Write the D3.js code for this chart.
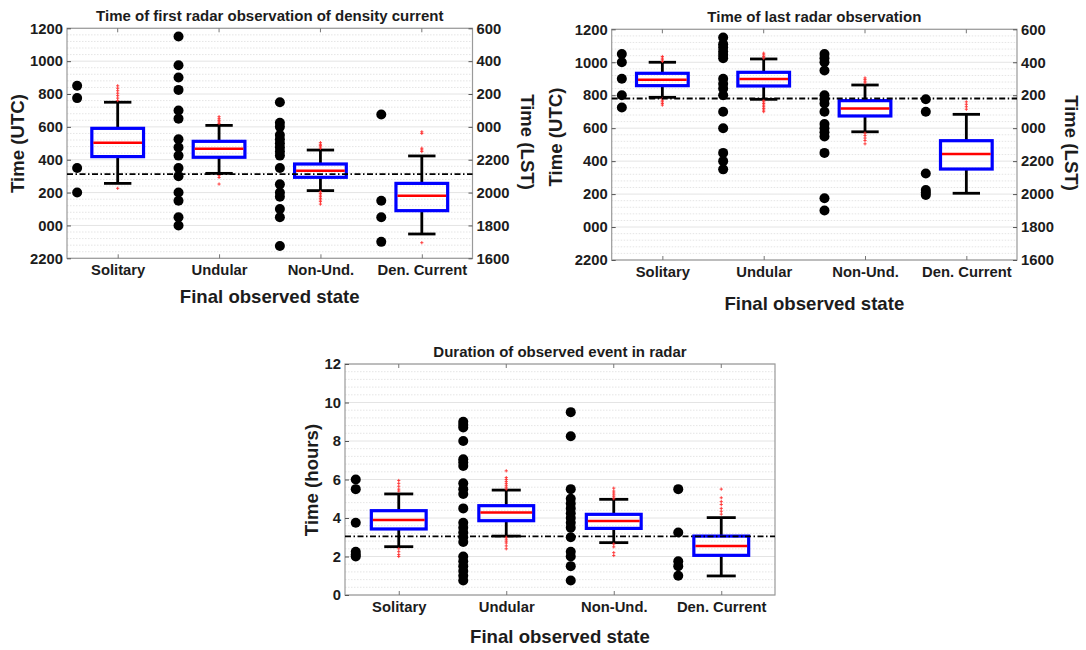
<!DOCTYPE html>
<html>
<head>
<meta charset="utf-8">
<script src="https://cdn.jsdelivr.net/npm/d3@7"></script>
<style>
  body { margin: 0; background: #fff; }
  svg { display: block; }
  text { font-family: "Liberation Sans", Arial, Helvetica, sans-serif; font-weight: bold; fill: #1c1c1c; }
</style>
</head>
<body>
<svg id="fig" width="1086" height="650"></svg>
<script>
// ---- categories and tick labels ----
const categories = ["Solitary", "Undular", "Non-Und.", "Den. Current"];
const clockTicks = [-200, 0, 200, 400, 600, 800, 1000, 1200];
const hourTicks = [0, 2, 4, 6, 8, 10, 12];

// ---- time of first radar observation (UTC, HHMM) ----
const firstEvents = [
  [850, 775, 350, 200],
  [1150, 975, 900, 825, 700, 650, 525, 475, 425, 350, 300, 200, 150, 50, 0],
  [750, 625, 600, 550, 525, 500, 475, 450, 425, 350, 250, 200, 175, 100, 50, -125],
  [675, 150, 50, -100]
];
const firstLow = [256, 317, 212, -52];
const firstQ1 = [419, 415, 293, 90];
const firstMedian = [504, 467, 333, 181];
const firstQ3 = [591, 512, 374, 256];
const firstHigh = [750, 609, 459, 423];
const firstOutliers = [
  [760, 775, 790, 805, 820, 835, 850, 226],
  [620, 630, 640, 650, 662, 305, 292, 252],
  [470, 478, 486, 494, 504, 205, 195, 185, 175, 165, 155, 145, 130],
  [570, 560, 470, 460, 450, -105]
];
const firstReference = 312;

// ---- time of last radar observation (UTC, HHMM) ----
const lastEvents = [
  [1050, 1000, 900, 800, 725],
  [1150, 1110, 1090, 1065, 1045, 1025, 900, 870, 840, 800, 700, 600, 450, 400, 350],
  [1050, 1025, 1000, 950, 800, 775, 750, 700, 625, 600, 575, 550, 450, 175, 100],
  [775, 700, 325, 225, 210, 195]
];
const lastLow = [787, 775, 578, 205];
const lastQ1 = [858, 856, 674, 352];
const lastMedian = [894, 898, 720, 443];
const lastQ3 = [933, 939, 767, 524];
const lastHigh = [1000, 1020, 862, 684];
const lastOutliers = [
  [1035, 1025, 1015, 1005, 780, 770, 760, 750, 740],
  [1055, 1045, 1035, 1025, 770, 760, 750, 740, 730, 720, 710, 700],
  [905, 895, 885, 875, 570, 555, 540, 525, 505],
  [760, 745, 730, 715]
];
const lastReference = 780;

// ---- duration of observed event (hours) ----
const durationEvents = [
  [6.0, 5.5, 3.75, 2.25, 2.1, 2.0],
  [9.0, 8.85, 8.7, 8.0, 7.05, 6.9, 6.7, 5.8, 5.5, 5.25, 4.5, 3.75, 3.5, 3.25, 3.0, 2.75, 2.0, 1.75, 1.5, 1.25, 1.0, 0.75],
  [9.5, 8.25, 5.5, 5.0, 4.75, 4.5, 4.25, 4.0, 3.75, 3.5, 3.0, 2.25, 2.0, 1.5, 0.75],
  [5.5, 3.25, 1.75, 1.5, 1.0]
];
const durationLow = [2.51, 3.06, 2.72, 0.99];
const durationQ1 = [3.43, 3.86, 3.46, 2.06];
const durationMedian = [3.9, 4.28, 3.84, 2.55];
const durationQ3 = [4.38, 4.64, 4.19, 3.06];
const durationHigh = [5.25, 5.45, 4.97, 4.02];
const durationOutliers = [
  [5.95, 5.8, 5.65, 5.5, 5.4, 2.4, 2.25, 2.1, 2.0],
  [6.45, 6.1, 6.0, 5.9, 5.8, 5.7, 5.6, 5.5, 3.0, 2.9, 2.8, 2.7, 2.55, 2.4],
  [5.55, 5.4, 5.3, 5.2, 5.1, 5.0, 2.65, 2.5, 2.2, 2.05],
  [5.5, 5.05, 4.85, 4.7, 4.5, 4.35, 4.2]
];
const durationReference = 3.05;

// ---- tick formatters ----
const pad3 = d3.format("03d");
const wrapClock = v => ((v % 2400) + 2400) % 2400;
const fmtUTC = v => pad3(wrapClock(v));
const fmtLST = v => pad3(wrapClock(v - 600));

const svg = d3.select("#fig");
const FONT_TICK = 14.8, FONT_TITLE = 15, FONT_LABEL = 18.6;

function drawPanel(p) {
  const g = svg.append("g");
  const x = d3.scaleLinear().domain([0.5, 4.5]).range([p.left, p.right]);
  const y = d3.scaleLinear().domain(p.yDomain).range([p.bottom, p.top]);
  const unit = x(2) - x(1);

  // minor dotted grid
  const step = p.ticks[1] - p.ticks[0];
  const minor = [];
  p.ticks.slice(0, -1).forEach(t => { for (let k = 1; k < 5; k++) minor.push(t + k * step / 5); });
  g.append("g").selectAll("line").data(minor).join("line")
    .attr("x1", p.left).attr("x2", p.right)
    .attr("y1", d => y(d)).attr("y2", d => y(d))
    .attr("stroke", "#dedede").attr("stroke-width", 0.8).attr("stroke-dasharray", "1.5,1.5");
  // major grid
  g.append("g").selectAll("line").data(p.ticks).join("line")
    .attr("x1", p.left).attr("x2", p.right)
    .attr("y1", d => y(d)).attr("y2", d => y(d))
    .attr("stroke", "#e4e4e4").attr("stroke-width", 1);

  // axis frame
  g.append("rect").attr("x", p.left).attr("y", p.top)
    .attr("width", p.right - p.left).attr("height", p.bottom - p.top)
    .attr("fill", "none").attr("stroke", "#9a9a9a").attr("stroke-width", 1.2);

  // left axis
  const ax = g.append("g").attr("transform", `translate(${p.left},0)`)
    .call(d3.axisLeft(y).tickValues(p.ticks).tickFormat(p.fmtLeft).tickSize(-4).tickPadding(4));
  ax.select(".domain").remove();
  ax.selectAll("line").attr("stroke", "#555");
  ax.selectAll("text").style("font-size", FONT_TICK + "px").attr("fill", "#1c1c1c");

  // right axis
  if (p.fmtRight) {
    const ar = g.append("g").attr("transform", `translate(${p.right},0)`)
      .call(d3.axisRight(y).tickValues(p.ticks).tickFormat(p.fmtRight).tickSize(-4).tickPadding(4));
    ar.select(".domain").remove();
    ar.selectAll("line").attr("stroke", "#555");
    ar.selectAll("text").style("font-size", FONT_TICK + "px").attr("fill", "#1c1c1c");
  }

  // bottom axis with category names
  const ab = g.append("g").attr("transform", `translate(0,${p.bottom})`)
    .call(d3.axisBottom(x).tickValues([1, 2, 3, 4]).tickFormat(i => categories[i - 1]).tickSize(-4).tickPadding(6));
  ab.select(".domain").remove();
  ab.selectAll("line").attr("stroke", "#777");
  ab.selectAll("text").style("font-size", FONT_TICK + "px").attr("fill", "#1c1c1c");
  // top tick marks
  g.append("g").selectAll("line").data([1, 2, 3, 4]).join("line")
    .attr("x1", d => x(d)).attr("x2", d => x(d))
    .attr("y1", p.top).attr("y2", p.top + 4).attr("stroke", "#777");

  const idx = [0, 1, 2, 3];

  // individual events as black dots, left of each box
  idx.forEach(i => {
    g.append("g").selectAll("circle").data(p.events[i]).join("circle")
      .attr("cx", x(i + 1 - 0.4)).attr("cy", d => y(d)).attr("r", 5).attr("fill", "#000");
  });

  // whiskers
  const cap = 0.27 * unit / 2, half = 0.51 * unit / 2;
  idx.forEach(i => {
    const cx = x(i + 1);
    const wg = g.append("g").attr("stroke", "#000").attr("stroke-width", 2.8);
    wg.append("line").attr("x1", cx).attr("x2", cx).attr("y1", y(p.q3[i])).attr("y2", y(p.high[i]));
    wg.append("line").attr("x1", cx).attr("x2", cx).attr("y1", y(p.q1[i])).attr("y2", y(p.low[i]));
    wg.append("line").attr("x1", cx - cap).attr("x2", cx + cap).attr("y1", y(p.high[i])).attr("y2", y(p.high[i]));
    wg.append("line").attr("x1", cx - cap).attr("x2", cx + cap).attr("y1", y(p.low[i])).attr("y2", y(p.low[i]));
  });

  // outliers as small red plus signs
  idx.forEach(i => {
    g.append("g").selectAll("path").data(p.outliers[i]).join("path")
      .attr("transform", d => `translate(${x(i + 1)},${y(d)})`)
      .attr("d", "M-1.6,0H1.6M0,-1.6V1.6")
      .attr("stroke", "#ff3030").attr("stroke-width", 0.9).attr("fill", "none");
  });

  // boxes and medians
  idx.forEach(i => {
    const cx = x(i + 1);
    g.append("rect").attr("x", cx - half).attr("width", 2 * half)
      .attr("y", y(p.q3[i])).attr("height", y(p.q1[i]) - y(p.q3[i]))
      .attr("fill", "none").attr("stroke", "#0000ff").attr("stroke-width", 3.2);
    g.append("line").attr("x1", cx - half + 1.5).attr("x2", cx + half - 1.5)
      .attr("y1", y(p.median[i])).attr("y2", y(p.median[i]))
      .attr("stroke", "#ff0000").attr("stroke-width", 2.5);
  });

  // reference level
  g.append("line").attr("x1", p.left).attr("x2", p.right)
    .attr("y1", y(p.reference)).attr("y2", y(p.reference))
    .attr("stroke", "#000").attr("stroke-width", 1.8).attr("stroke-dasharray", "6,2.5,1.5,2.5");

  // titles and labels
  const midX = (p.left + p.right) / 2;
  g.append("text").attr("x", midX).attr("y", p.titleY).attr("text-anchor", "middle")
    .style("font-size", FONT_TITLE + "px").text(p.title);
  g.append("text").attr("x", midX).attr("y", p.xLabelY).attr("text-anchor", "middle")
    .style("font-size", FONT_LABEL + "px").attr("fill", "#2a2a2a").text("Final observed state");
  g.append("text").attr("transform", `translate(${p.yLabelX},${p.yLabelMid}) rotate(-90)`)
    .attr("text-anchor", "middle").style("font-size", FONT_LABEL + "px").attr("fill", "#2a2a2a").text(p.yLabel);
  if (p.rLabel) {
    g.append("text").attr("transform", `translate(${p.rLabelX},${p.rLabelMid}) rotate(90)`)
      .attr("text-anchor", "middle").style("font-size", FONT_LABEL + "px").attr("fill", "#2a2a2a").text(p.rLabel);
  }
}

drawPanel({
  left: 67, right: 472.5, top: 28.3, bottom: 258.3,
  yDomain: [-200, 1200], ticks: clockTicks, fmtLeft: fmtUTC, fmtRight: fmtLST,
  events: firstEvents, low: firstLow, q1: firstQ1, median: firstMedian, q3: firstQ3, high: firstHigh,
  outliers: firstOutliers, reference: firstReference,
  title: "Time of first radar observation of density current", titleY: 21,
  xLabelY: 303.3, yLabel: "Time (UTC)", yLabelX: 23.5, yLabelMid: 143.5,
  rLabel: "Time (LST)", rLabelX: 521, rLabelMid: 142
});

drawPanel({
  left: 611.7, right: 1017, top: 29.3, bottom: 260,
  yDomain: [-200, 1200], ticks: clockTicks, fmtLeft: fmtUTC, fmtRight: fmtLST,
  events: lastEvents, low: lastLow, q1: lastQ1, median: lastMedian, q3: lastQ3, high: lastHigh,
  outliers: lastOutliers, reference: lastReference,
  title: "Time of last radar observation", titleY: 21.7,
  xLabelY: 310, yLabel: "Time (UTC)", yLabelX: 562, yLabelMid: 137,
  rLabel: "Time (LST)", rLabelX: 1065, rLabelMid: 143
});

drawPanel({
  left: 345, right: 775, top: 364, bottom: 595,
  yDomain: [0, 12], ticks: hourTicks, fmtLeft: d3.format("d"), fmtRight: null,
  events: durationEvents, low: durationLow, q1: durationQ1, median: durationMedian, q3: durationQ3, high: durationHigh,
  outliers: durationOutliers, reference: durationReference,
  title: "Duration of observed event in radar", titleY: 356.7,
  xLabelY: 642.7, yLabel: "Time (hours)", yLabelX: 318, yLabelMid: 480
});
</script>
</body>
</html>
